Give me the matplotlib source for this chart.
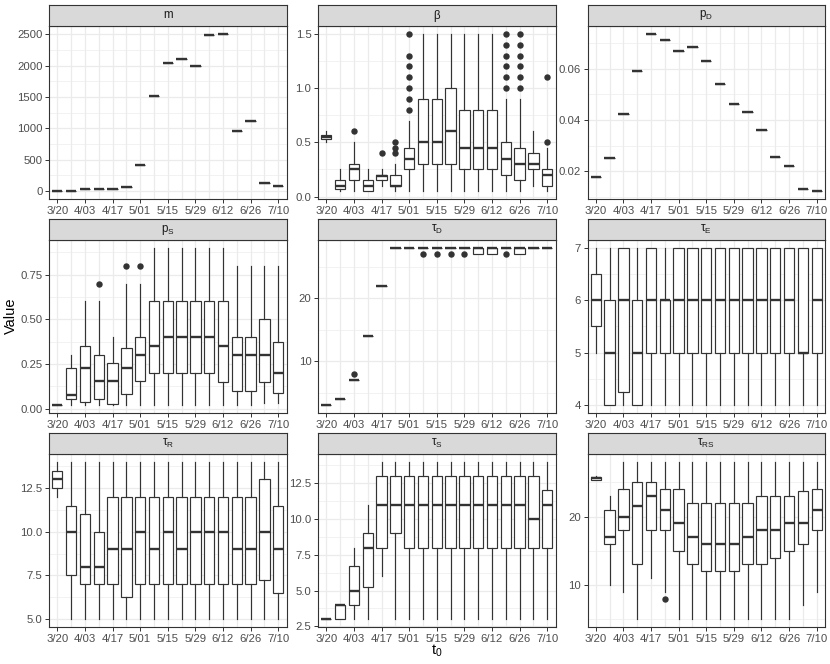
import numpy as np
import matplotlib
matplotlib.use('Agg')
import matplotlib.pyplot as plt

plt.rcParams['font.family'] = ['Liberation Sans', 'DejaVu Sans']
plt.rcParams['mathtext.fontset'] = 'custom'
plt.rcParams['mathtext.rm'] = 'Liberation Sans'
plt.rcParams['mathtext.it'] = 'Liberation Sans'
plt.rcParams['mathtext.default'] = 'regular'

dates = ['3/20', '3/27', '4/03', '4/10', '4/17', '4/24', '5/01', '5/08', '5/15',
         '5/22', '5/29', '6/05', '6/12', '6/19', '6/26', '7/03', '7/10']

# m and p_D: one value per date
m_val = [0, 10, 30, 40, 30, 65, 425, 1525, 2048, 2106, 1998, 2484, 2510, 957, 1115, 122, 85]
pD_val = [0.0179, 0.0251, 0.0425, 0.0593, 0.0737, 0.0713, 0.0669, 0.0685, 0.0630,
          0.0541, 0.0462, 0.0430, 0.0361, 0.0257, 0.0222, 0.0131, 0.0122]

# beta
beta_lo = [0.50, 0.05, 0.05, 0.05, 0.10, 0.05, 0.05, 0.05, 0.05, 0.05, 0.05, 0.05, 0.05, 0.05, 0.05, 0.10, 0.05]
beta_q1 = [0.53, 0.07, 0.15, 0.05, 0.15, 0.10, 0.25, 0.30, 0.30, 0.30, 0.25, 0.25, 0.25, 0.20, 0.15, 0.25, 0.10]
beta_med = [0.55, 0.10, 0.25, 0.10, 0.19, 0.10, 0.35, 0.50, 0.50, 0.60, 0.45, 0.45, 0.45, 0.35, 0.30, 0.30, 0.20]
beta_q3 = [0.57, 0.15, 0.30, 0.15, 0.20, 0.20, 0.45, 0.90, 0.90, 1.00, 0.80, 0.80, 0.80, 0.50, 0.45, 0.40, 0.25]
beta_hi = [0.60, 0.25, 0.50, 0.25, 0.25, 0.30, 0.70, 1.50, 1.50, 1.50, 1.50, 1.50, 1.50, 0.90, 0.90, 0.60, 0.45]
beta_out = {'4/03': [0.6], '4/17': [0.4], '4/24': [0.4, 0.45, 0.5],
            '5/01': [0.8, 0.9, 1.0, 1.1, 1.2, 1.3, 1.5],
            '6/19': [1.0, 1.1, 1.2, 1.3, 1.4, 1.5],
            '6/26': [1.0, 1.1, 1.2, 1.3, 1.4, 1.5],
            '7/10': [0.5, 1.1]}

# p_S
pS_lo = [0.02, 0.02, 0.02, 0.02, 0.02, 0.02, 0.02, 0.02, 0.02, 0.02, 0.02, 0.02, 0.02, 0.02, 0.02, 0.03, 0.03]
pS_q1 = [0.02, 0.055, 0.035, 0.055, 0.028, 0.08, 0.155, 0.20, 0.20, 0.20, 0.20, 0.20, 0.15, 0.10, 0.10, 0.15, 0.09]
pS_med = [0.02, 0.077, 0.23, 0.155, 0.155, 0.23, 0.30, 0.35, 0.40, 0.40, 0.40, 0.40, 0.35, 0.30, 0.30, 0.30, 0.20]
pS_q3 = [0.02, 0.228, 0.353, 0.30, 0.253, 0.341, 0.40, 0.60, 0.60, 0.60, 0.60, 0.60, 0.60, 0.40, 0.40, 0.50, 0.375]
pS_hi = [0.02, 0.30, 0.60, 0.60, 0.40, 0.70, 0.70, 0.90, 0.90, 0.90, 0.90, 0.90, 0.90, 0.80, 0.80, 0.80, 0.80]
pS_out = {'4/10': [0.7], '4/24': [0.8], '5/01': [0.8]}

# tau_D
tD_lo = [3, 4, 7, 14, 22, 28, 28, 28, 28, 28, 28, 27, 27, 28, 27, 28, 28]
tD_q1 = [3, 4, 7, 14, 22, 28, 28, 28, 28, 28, 28, 27, 27, 28, 27, 28, 28]
tD_med = [3, 4, 7, 14, 22, 28, 28, 28, 28, 28, 28, 28, 28, 28, 28, 28, 28]
tD_q3 = [3, 4, 7, 14, 22, 28, 28, 28, 28, 28, 28, 28, 28, 28, 28, 28, 28]
tD_hi = [3, 4, 7, 14, 22, 28, 28, 28, 28, 28, 28, 28, 28, 28, 28, 28, 28]
tD_out = {'4/03': [8], '5/08': [27], '5/15': [27], '5/22': [27], '5/29': [27], '6/19': [27]}

# tau_E
tE_lo = [5, 4, 4, 4, 4, 4, 4, 4, 4, 4, 4, 4, 4, 4, 4, 4, 4]
tE_q1 = [5.5, 4, 4.25, 4, 5, 5, 5, 5, 5, 5, 5, 5, 5, 5, 5, 5, 5]
tE_med = [6, 5, 6, 5, 6, 6, 6, 6, 6, 6, 6, 6, 6, 6, 6, 5, 6]
tE_q3 = [6.5, 6, 7, 6, 7, 6, 7, 7, 7, 7, 7, 7, 7, 7, 7, 7, 7]
tE_hi = [7, 7, 7, 7, 7, 7, 7, 7, 7, 7, 7, 7, 7, 7, 7, 7, 7]

# tau_R
tR_lo = [12, 5, 5, 5, 5, 5, 5, 5, 5, 5, 5, 5, 5, 5, 5, 5, 5]
tR_q1 = [12.5, 7.5, 7, 7, 7, 6.25, 7, 7, 7, 7, 7, 7, 7, 7, 7, 7.25, 6.5]
tR_med = [13, 10, 8, 8, 9, 9, 10, 9, 10, 9, 10, 10, 10, 9, 9, 10, 9]
tR_q3 = [13.5, 11.5, 11, 10, 12, 12, 12, 12, 12, 12, 12, 12, 12, 12, 12, 13, 11.5]
tR_hi = [14, 14, 14, 14, 14, 14, 14, 14, 14, 14, 14, 14, 14, 14, 14, 14, 14]

# tau_S
tS_lo = [3, 3, 3, 3, 6, 3, 3, 3, 3, 3, 3, 3, 3, 3, 3, 3, 3]
tS_q1 = [3, 3, 4, 5.25, 8, 9, 8, 8, 8, 8, 8, 8, 8, 8, 8, 8, 8]
tS_med = [3, 4, 5, 8, 11, 11, 11, 11, 11, 11, 11, 11, 11, 11, 11, 10, 11]
tS_q3 = [3, 4, 6.75, 9, 13, 13, 13, 13, 13, 13, 13, 13, 13, 13, 13, 13, 12]
tS_hi = [3, 4, 8, 11, 14, 14, 14, 14, 14, 14, 14, 14, 14, 14, 14, 14, 14]

# tau_RS
tRS_lo = [25.3, 10, 9, 5, 11, 9, 5, 5, 5, 5, 5, 5, 5, 5, 5, 7, 9]
tRS_q1 = [25.3, 16, 18, 13, 18, 18, 15, 13, 12, 12, 12, 13, 13, 14, 15, 16, 18]
tRS_med = [25.6, 17, 20, 21.5, 23, 21, 19, 17, 16, 16, 16, 17, 18, 18, 19, 19, 21]
tRS_q3 = [25.8, 21, 24, 25, 25, 24, 24, 22, 22, 22, 22, 22, 23, 23, 23, 23.75, 24]
tRS_hi = [26, 23, 28, 28, 28, 28, 28, 28, 28, 28, 28, 28, 28, 28, 28, 28, 28]
tRS_out = {'4/24': [8]}


def make_stats(lo, q1, med, q3, hi, out=None):
    out = out or {}
    return [dict(whislo=lo[i], q1=q1[i], med=med[i], q3=q3[i], whishi=hi[i],
                 fliers=out.get(d, [])) for i, d in enumerate(dates)]


panels = [
    ('m', make_stats(m_val, m_val, m_val, m_val, m_val),
     [0, 500, 1000, 1500, 2000, 2500], ['0', '500', '1000', '1500', '2000', '2500']),
    ('β', make_stats(beta_lo, beta_q1, beta_med, beta_q3, beta_hi, beta_out),
     [0, 0.5, 1.0, 1.5], ['0.0', '0.5', '1.0', '1.5']),
    (r'$p_D$', make_stats(pD_val, pD_val, pD_val, pD_val, pD_val),
     [0.02, 0.04, 0.06], ['0.02', '0.04', '0.06']),
    (r'$p_S$', make_stats(pS_lo, pS_q1, pS_med, pS_q3, pS_hi, pS_out),
     [0, 0.25, 0.5, 0.75], ['0.00', '0.25', '0.50', '0.75']),
    (r'$τ_D$', make_stats(tD_lo, tD_q1, tD_med, tD_q3, tD_hi, tD_out),
     [10, 20], ['10', '20']),
    (r'$τ_E$', make_stats(tE_lo, tE_q1, tE_med, tE_q3, tE_hi),
     [4, 5, 6, 7], ['4', '5', '6', '7']),
    (r'$τ_R$', make_stats(tR_lo, tR_q1, tR_med, tR_q3, tR_hi),
     [5, 7.5, 10, 12.5], ['5.0', '7.5', '10.0', '12.5']),
    (r'$τ_S$', make_stats(tS_lo, tS_q1, tS_med, tS_q3, tS_hi),
     [2.5, 5, 7.5, 10, 12.5], ['2.5', '5.0', '7.5', '10.0', '12.5']),
    (r'$τ_{RS}$', make_stats(tRS_lo, tRS_q1, tRS_med, tRS_q3, tRS_hi, tRS_out),
     [10, 20], ['10', '20']),
]

W, H = 830, 664
fig = plt.figure(figsize=(W / 100, H / 100), dpi=100)

cols = [(49, 286.5), (318, 555.5), (587.5, 825)]
rows = [(5, 26, 199), (219, 240, 413), (433, 454, 627)]
dark = '#333333'
grid = '#EBEBEB'

pos = np.arange(1, len(dates) + 1)

for k, (title, st, yt, ylab) in enumerate(panels):
    r, c = divmod(k, 3)
    x0, x1 = cols[c]
    s0, p0, p1 = rows[r]
    ax = fig.add_axes([x0 / W, 1 - p1 / H, (x1 - x0) / W, (p1 - p0) / H])
    sax = fig.add_axes([x0 / W, 1 - p0 / H, (x1 - x0) / W, (p0 - s0) / H])

    ax.bxp(st, positions=pos, widths=0.75, patch_artist=True, showcaps=False,
           manage_ticks=False,
           boxprops=dict(facecolor='white', edgecolor=dark, linewidth=0.85),
           medianprops=dict(color=dark, linewidth=1.7, solid_capstyle='butt'),
           whiskerprops=dict(color=dark, linewidth=0.85),
           flierprops=dict(marker='o', markerfacecolor=dark, markeredgecolor=dark,
                           markersize=3.6, linestyle='none'))

    vals = [v for s in st for v in [s['whislo'], s['whishi']] + list(s['fliers'])]
    lo, hi = min(vals), max(vals)
    pad = 0.05 * (hi - lo)
    ax.set_ylim(lo - pad, hi + pad)
    ax.set_xlim(0.4, len(dates) + 0.6)

    step = yt[1] - yt[0]
    minor = np.arange(yt[0] - step / 2, yt[-1] + step, step)
    minor = [v for v in minor if lo - pad <= v <= hi + pad]
    ax.set_yticks(yt)
    ax.set_yticklabels(ylab)
    ax.set_yticks(minor, minor=True)
    ax.set_xticks(pos[::2])
    ax.set_xticklabels(dates[::2])
    ax.set_xticks(pos[1::2], minor=True)

    ax.set_axisbelow(True)
    ax.grid(which='major', color=grid, linewidth=0.9)
    ax.grid(which='minor', axis='x', color=grid, linewidth=0.9)
    ax.grid(which='minor', axis='y', color=grid, linewidth=0.45)
    ax.tick_params(which='major', length=2.75, width=0.7, color=dark,
                   labelsize=8.2, labelcolor='#4D4D4D', pad=2)
    ax.tick_params(which='minor', length=0)
    for sp in ax.spines.values():
        sp.set_color(dark)
        sp.set_linewidth(0.8)

    sax.set_facecolor('#D9D9D9')
    sax.set_xticks([])
    sax.set_yticks([])
    for sp in sax.spines.values():
        sp.set_color(dark)
        sp.set_linewidth(0.8)
    sax.text(0.5, 0.5, title, transform=sax.transAxes, ha='center', va='center',
             fontsize=8.4, color='#1A1A1A')

fig.text(11 / W, 1 - 316 / H, 'Value', rotation=90, ha='center', va='center',
         fontsize=10.5, color='black')
fig.text(437 / W, 1 - 651 / H, r'$t_0$', ha='center', va='center',
         fontsize=10.5, color='black')

fig.savefig('out.png', dpi=100)
